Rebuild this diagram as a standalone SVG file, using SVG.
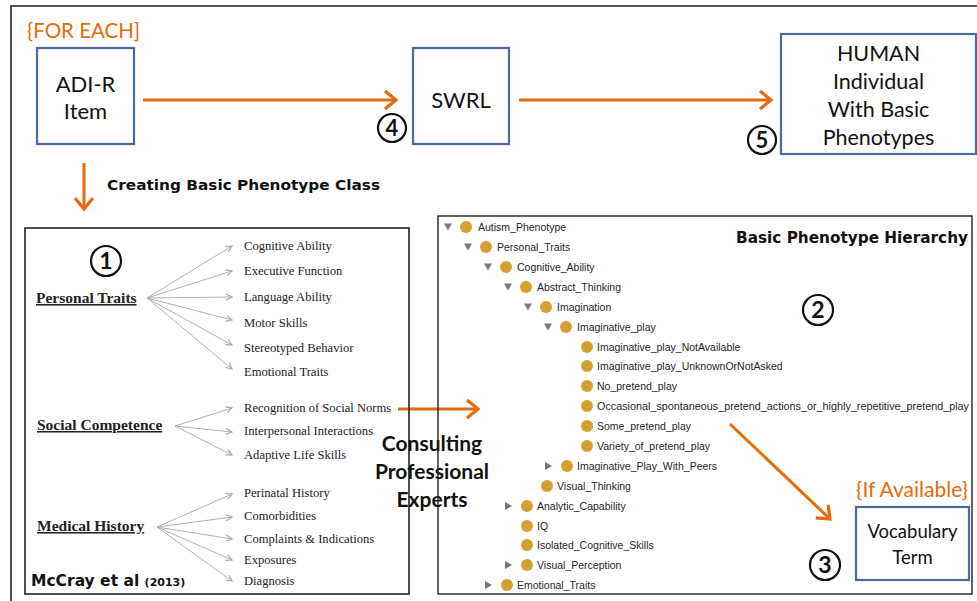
<svg xmlns="http://www.w3.org/2000/svg" xmlns:xlink="http://www.w3.org/1999/xlink" width="977" height="601" viewBox="0 0 977 601">
<style>
.frame{fill:none;stroke:#222;stroke-width:1.6}
.bbox{fill:#fff;stroke:#4a6b9c;stroke-width:2.2}
.cal{font-family:Lato,'Open Sans','Liberation Sans',sans-serif;fill:#111}
.oline{stroke:#e46c0a;stroke-width:3;fill:none}
.gline{stroke:#b0b0b0;stroke-width:1;fill:none}
.tms{font-family:'Liberation Serif',serif;font-size:12.6px;fill:#222}
.hd{font-family:'Liberation Serif',serif;font-size:15.5px;font-weight:bold;fill:#222;text-decoration:underline}
.num{fill:none;stroke:#111;stroke-width:2.2}
.numt{font-family:Lato,'Liberation Sans',sans-serif;font-weight:bold;fill:#111;text-anchor:middle}
.tree{font-family:'Liberation Sans',Arial,sans-serif;font-size:10.5px;fill:#262626}
.dot{fill:#d4a131}
.tri{fill:#777}
.blk{font-family:'DejaVu Sans','Liberation Sans',sans-serif;font-weight:bold;fill:#111}
</style>
<defs>
<marker id="oa" viewBox="0 0 16 22" refX="13" refY="11" markerWidth="16" markerHeight="22" orient="auto" markerUnits="userSpaceOnUse">
<path d="M2,2 L13,11 L2,20" fill="none" stroke="#e46c0a" stroke-width="3.2"/>
</marker>
<marker id="ga" viewBox="0 0 8 8" refX="7" refY="4" markerWidth="8" markerHeight="8" orient="auto" markerUnits="userSpaceOnUse">
<path d="M1,1 L7,4 L1,7" fill="none" stroke="#a8a8a8" stroke-width="1.2"/>
</marker>
<path id="td" d="M-4,-3.5 H4 L0,3.5 Z" class="tri"/>
<path id="tr" d="M-3,-4 V4 L4,0 Z" class="tri"/>
</defs>
<rect width="977" height="601" fill="#fff"/>
<path class="frame" d="M11,601 V6 H977"/>

<g id="for-each"><text x="27" y="38" class="cal" font-size="20.5" style="fill:#e46c0a">{FOR EACH]</text></g>

<g id="adir">
<rect class="bbox" x="37" y="48" width="97" height="96"/>
<text class="cal" x="85.5" y="92" font-size="22" text-anchor="middle">ADI-R</text>
<text class="cal" x="85.5" y="119" font-size="22" text-anchor="middle">Item</text>
</g>

<g id="swrl">
<rect class="bbox" x="413" y="48" width="96" height="96"/>
<text class="cal" x="461" y="108" font-size="22" text-anchor="middle">SWRL</text>
</g>

<g id="human">
<rect class="bbox" x="781" y="34" width="195" height="120"/>
<text class="cal" x="878.5" y="61" font-size="21.5" text-anchor="middle">HUMAN</text>
<text class="cal" x="878.5" y="89" font-size="21.5" text-anchor="middle">Individual</text>
<text class="cal" x="878.5" y="117" font-size="21.5" text-anchor="middle">With Basic</text>
<text class="cal" x="878.5" y="145" font-size="21.5" text-anchor="middle">Phenotypes</text>
</g>

<g id="num4"><circle class="num" cx="392" cy="128" r="14"/><text class="numt" x="392" y="136" font-size="22">4</text></g>
<g id="num5"><circle class="num" cx="762" cy="140" r="14"/><text class="numt" x="762" y="148" font-size="22">5</text></g>

<g id="creating-label"><text class="blk" x="107" y="190" font-size="14.5" textLength="273" lengthAdjust="spacingAndGlyphs">Creating Basic Phenotype Class</text></g>

<g id="connectors">
<line class="oline" x1="143" y1="100" x2="396" y2="100" marker-end="url(#oa)"/>
<line class="oline" x1="519" y1="100" x2="771" y2="100" marker-end="url(#oa)"/>
<line class="oline" x1="84" y1="163" x2="84" y2="209" marker-end="url(#oa)"/>
<line class="oline" x1="398" y1="409" x2="478" y2="409" marker-end="url(#oa)"/>
<line class="oline" x1="730" y1="424" x2="830" y2="519" marker-end="url(#oa)"/>
<g id="fan-personal">
<line class="gline" x1="147" y1="298" x2="232" y2="246" marker-end="url(#ga)"/>
<line class="gline" x1="147" y1="298" x2="232" y2="271" marker-end="url(#ga)"/>
<line class="gline" x1="147" y1="298" x2="232" y2="297" marker-end="url(#ga)"/>
<line class="gline" x1="147" y1="298" x2="232" y2="320" marker-end="url(#ga)"/>
<line class="gline" x1="147" y1="298" x2="232" y2="345" marker-end="url(#ga)"/>
<line class="gline" x1="147" y1="298" x2="232" y2="369" marker-end="url(#ga)"/>
</g>
<g id="fan-social">
<line class="gline" x1="175" y1="426" x2="232" y2="408" marker-end="url(#ga)"/>
<line class="gline" x1="175" y1="426" x2="232" y2="432" marker-end="url(#ga)"/>
<line class="gline" x1="175" y1="426" x2="232" y2="455" marker-end="url(#ga)"/>
</g>
<g id="fan-medical">
<line class="gline" x1="157" y1="527" x2="232" y2="494" marker-end="url(#ga)"/>
<line class="gline" x1="157" y1="527" x2="232" y2="517" marker-end="url(#ga)"/>
<line class="gline" x1="157" y1="527" x2="232" y2="539" marker-end="url(#ga)"/>
<line class="gline" x1="157" y1="527" x2="232" y2="560" marker-end="url(#ga)"/>
<line class="gline" x1="157" y1="527" x2="232" y2="581" marker-end="url(#ga)"/>
</g>
</g>

<g id="mccray-panel">
<rect x="25" y="228" width="384" height="366" fill="none" stroke="#222" stroke-width="1.6"/>
<g id="num1"><circle class="num" cx="106" cy="261" r="15"/><text class="numt" x="106" y="269" font-size="23">1</text></g>
<text class="hd" x="36" y="303">Personal Traits</text>
<text class="hd" x="37" y="430">Social Competence</text>
<text class="hd" x="37" y="531">Medical History</text>
<text class="tms" x="244" y="250">Cognitive Ability</text>
<text class="tms" x="244" y="275">Executive Function</text>
<text class="tms" x="244" y="301">Language Ability</text>
<text class="tms" x="244" y="327">Motor Skills</text>
<text class="tms" x="244" y="352">Stereotyped Behavior</text>
<text class="tms" x="244" y="376">Emotional Traits</text>
<text class="tms" x="244" y="412">Recognition of Social Norms</text>
<text class="tms" x="244" y="435">Interpersonal Interactions</text>
<text class="tms" x="244" y="459">Adaptive Life Skills</text>
<text class="tms" x="244" y="497">Perinatal History</text>
<text class="tms" x="244" y="520">Comorbidities</text>
<text class="tms" x="244" y="543">Complaints &amp; Indications</text>
<text class="tms" x="244" y="564">Exposures</text>
<text class="tms" x="244" y="585">Diagnosis</text>
<text class="blk" x="31" y="586" font-size="15.5">McCray et al <tspan font-size="11">(2013)</tspan></text>
</g>

<g id="consulting">
<text class="cal" x="432" y="451" font-size="21" font-weight="bold" text-anchor="middle">Consulting</text>
<text class="cal" x="432" y="479" font-size="21" font-weight="bold" text-anchor="middle">Professional</text>
<text class="cal" x="432" y="507" font-size="21" font-weight="bold" text-anchor="middle">Experts</text>
</g>

<g id="hierarchy-panel">
<rect x="438" y="216" width="534" height="378" fill="none" stroke="#222" stroke-width="1.4"/>
<text class="blk" x="736" y="243" font-size="15.5" textLength="232" lengthAdjust="spacingAndGlyphs">Basic Phenotype Hierarchy</text>
<g id="num2"><circle class="num" cx="818" cy="310" r="15"/><text class="numt" x="818" y="318" font-size="23">2</text></g>
<use xlink:href="#td" x="448" y="227"/><circle class="dot" cx="466" cy="227" r="6"/><text class="tree" x="478" y="230.5">Autism_Phenotype</text>
<use xlink:href="#td" x="468" y="247"/><circle class="dot" cx="486" cy="247" r="6"/><text class="tree" x="497" y="250.5">Personal_Traits</text>
<use xlink:href="#td" x="488" y="267"/><circle class="dot" cx="506" cy="267" r="6"/><text class="tree" x="517" y="270.5">Cognitive_Ability</text>
<use xlink:href="#td" x="508" y="287"/><circle class="dot" cx="526" cy="287" r="6"/><text class="tree" x="537" y="290.5">Abstract_Thinking</text>
<use xlink:href="#td" x="528" y="307"/><circle class="dot" cx="546" cy="307" r="6"/><text class="tree" x="557" y="310.5">Imagination</text>
<use xlink:href="#td" x="548" y="327"/><circle class="dot" cx="566" cy="327" r="6"/><text class="tree" x="577" y="330.5">Imaginative_play</text>
<circle class="dot" cx="587" cy="347" r="6"/><text class="tree" x="597" y="350.5">Imaginative_play_NotAvailable</text>
<circle class="dot" cx="587" cy="366" r="6"/><text class="tree" x="597" y="369.5">Imaginative_play_UnknownOrNotAsked</text>
<circle class="dot" cx="587" cy="386" r="6"/><text class="tree" x="597" y="389.5">No_pretend_play</text>
<circle class="dot" cx="587" cy="406" r="6"/><text class="tree" x="597" y="409.5" textLength="372" lengthAdjust="spacingAndGlyphs">Occasional_spontaneous_pretend_actions_or_highly_repetitive_pretend_play</text>
<circle class="dot" cx="587" cy="426" r="6"/><text class="tree" x="597" y="429.5">Some_pretend_play</text>
<circle class="dot" cx="587" cy="446" r="6"/><text class="tree" x="597" y="449.5">Variety_of_pretend_play</text>
<use xlink:href="#tr" x="548" y="466"/><circle class="dot" cx="567" cy="466" r="6"/><text class="tree" x="577" y="469.5">Imaginative_Play_With_Peers</text>
<circle class="dot" cx="547" cy="486" r="6"/><text class="tree" x="557" y="489.5">Visual_Thinking</text>
<use xlink:href="#tr" x="508" y="506"/><circle class="dot" cx="527" cy="506" r="6"/><text class="tree" x="537" y="509.5">Analytic_Capability</text>
<circle class="dot" cx="527" cy="526" r="6"/><text class="tree" x="537" y="529.5">IQ</text>
<circle class="dot" cx="527" cy="545" r="6"/><text class="tree" x="537" y="548.5">Isolated_Cognitive_Skills</text>
<use xlink:href="#tr" x="508" y="565"/><circle class="dot" cx="527" cy="565" r="6"/><text class="tree" x="537" y="568.5">Visual_Perception</text>
<use xlink:href="#tr" x="488" y="585"/><circle class="dot" cx="507" cy="585" r="6"/><text class="tree" x="517" y="588.5">Emotional_Traits</text>
</g>

<g id="if-available"><text class="cal" x="968" y="497" font-size="21" text-anchor="end" style="fill:#e46c0a">{If Available}</text></g>

<g id="vocabulary">
<rect class="bbox" x="856" y="507" width="113" height="73"/>
<text class="cal" x="912.5" y="538" font-size="18.5" text-anchor="middle">Vocabulary</text>
<text class="cal" x="912.5" y="564" font-size="18.5" text-anchor="middle">Term</text>
</g>
<g id="num3"><circle class="num" cx="825" cy="565" r="15"/><text class="numt" x="825" y="573" font-size="23">3</text></g>
</svg>
